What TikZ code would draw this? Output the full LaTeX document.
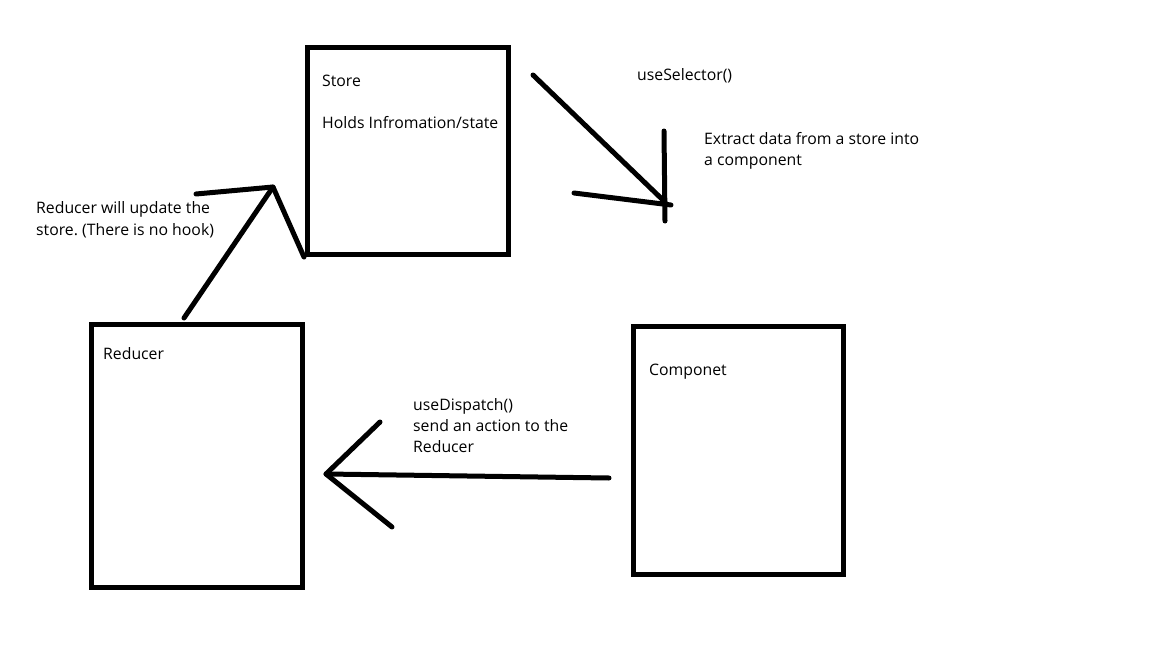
\documentclass[tikz,border=0pt]{standalone}
\usepackage{fontspec}
\setmainfont{Open Sans}
\frenchspacing
\begin{document}
\begin{tikzpicture}[x=1pt,y=-1pt,
  box/.style={draw=black,line width=5.5pt,rectangle,inner sep=0pt},
  stroke/.style={draw=black,line width=5pt,line cap=round,line join=round},
  lbl/.style={anchor=base west,inner sep=0pt,font=\fontsize{15.8}{19}\selectfont}]
\useasboundingbox[fill=white] (0,0) rectangle (1152,648);
% boxes
\node[box,minimum width=201pt,minimum height=207pt] (store) at (408,151) {};
\node[box,minimum width=211pt,minimum height=263pt] (reducer) at (197,456) {};
\node[box,minimum width=210pt,minimum height=248pt] (comp) at (738.5,450.5) {};
% texts
\node[lbl] (tstore) at (322,86) {Store};
\node[lbl] (tholds) at (322,128) {Holds Infromation/state};
\node[lbl] (tupd1) at (36,213) {Reducer will update the};
\node[lbl] (tupd2) at (36,235) {store.\ (There is no hook)};
\node[lbl] (tsel) at (637,80) {useSelector()};
\node[lbl] (text1) at (704,144) {Extract data from a store into};
\node[lbl] (text2) at (704,165) {a component};
\node[lbl] (tred) at (103,359) {Reducer};
\node[lbl] (tcomp) at (649,375) {Componet};
\node[lbl] (tdisp1) at (413,410) {useDispatch()};
\node[lbl] (tdisp2) at (413,431) {send an action to the};
\node[lbl] (tdisp3) at (413,452) {Reducer};
% arrow reducer -> store
\coordinate (a1s) at (184,318);
\coordinate (a1t) at (273,187);
\coordinate (a1l) at (196,194);
\coordinate (a1r) at (304,257);
\draw[stroke] (a1s) -- (a1t);
\draw[stroke] (a1l) -- (a1t) -- (a1r);
% arrow store -> component (useSelector)
\coordinate (a2s) at (533,75);
\coordinate (a2t) at (665,202);
\coordinate (a2l) at (574,193);
\coordinate (a2r) at (671,205);
\coordinate (a2u) at (664,131);
\coordinate (a2d) at (665,221);
\draw[stroke] (a2s) -- (a2t);
\draw[stroke] (a2l) -- (a2r);
\draw[stroke] (a2u) -- (a2d);
% arrow component -> reducer (useDispatch)
\coordinate (a3s) at (609,478);
\coordinate (a3t) at (326,474);
\coordinate (a3u) at (380,422);
\coordinate (a3d) at (392,527);
\draw[stroke] (a3s) -- (a3t);
\draw[stroke] (a3u) -- (a3t) -- (a3d);
\end{tikzpicture}
\end{document}
